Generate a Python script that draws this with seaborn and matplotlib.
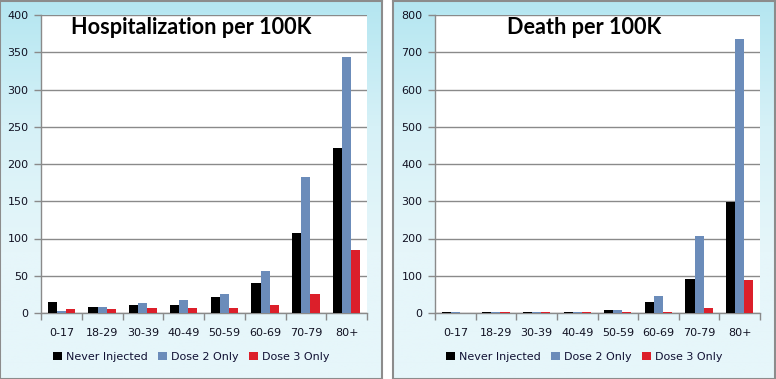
import numpy as np
import pandas as pd
import matplotlib
matplotlib.use("Agg")
import matplotlib.pyplot as plt
import seaborn as sns
from matplotlib.colors import LinearSegmentedColormap
from matplotlib.patches import Patch

categories = ["0-17", "18-29", "30-39", "40-49", "50-59", "60-69", "70-79", "80+"]
series = ["Never Injected", "Dose 2 Only", "Dose 3 Only"]
hosp_never = [15, 8.6, 11.3, 11.3, 22, 39.6, 107, 222]
hosp_dose2 = [3.2, 8.6, 14, 18, 26, 56, 182, 344]
hosp_dose3 = [5, 5, 6.3, 6.3, 7.2, 11.3, 26, 84]
death_never = [3.6, 3, 3, 3, 9, 30.6, 90, 297]
death_dose2 = [3.6, 3, 3, 3, 9, 46.8, 206, 735]
death_dose3 = [0.4, 3, 3, 3, 3, 3, 14.4, 87.4]
titles = ["Hospitalization per 100K", "Death per 100K"]
ylims = [400, 800]
ysteps = [50, 100]

colors = ["#000000", "#6b8cba", "#dc1f2a"]

sns.set_theme(style="white")
plt.rcParams["font.family"] = ["DejaVu Sans"]

W, H = 776, 379
fig = plt.figure(figsize=(W / 100, H / 100), dpi=100)
fig.patch.set_facecolor("white")

cmap = LinearSegmentedColormap.from_list("bg", ["#b4e6f1", "#d6f1f7", "#e6f6fa", "#e6f6fa"])
grad = np.linspace(0, 1, 256).reshape(-1, 1)

panels = [(0, 383), (393, 776)]
plot_boxes = [(41, 367), (435, 760)]
datasets = [(hosp_never, hosp_dose2, hosp_dose3), (death_never, death_dose2, death_dose3)]

for i in range(2):
    px0, px1 = panels[i]
    bg = fig.add_axes([px0 / W, 0.5 / H, (px1 - px0 - 1) / W, (H - 1.5) / H])
    bg.imshow(grad, aspect="auto", cmap=cmap, extent=[0, 1, 0, 1])
    bg.set_xticks([])
    bg.set_yticks([])
    for s in bg.spines.values():
        s.set_color("#8c8c8c")
        s.set_linewidth(1.5)
    bg.set_zorder(0)

    x0, x1 = plot_boxes[i]
    ax = fig.add_axes([x0 / W, (H - 313) / H, (x1 - x0) / W, 298 / H])
    ax.set_zorder(1)
    ax.set_facecolor("white")
    n, d2, d3 = datasets[i]
    df = pd.DataFrame({
        "Age": categories * 3,
        "Series": [series[0]] * 8 + [series[1]] * 8 + [series[2]] * 8,
        "Value": list(n) + list(d2) + list(d3),
    })
    sns.barplot(data=df, x="Age", y="Value", hue="Series", hue_order=series,
                palette=colors, width=0.67, saturation=1, ax=ax, legend=False,
                linewidth=0, errorbar=None, zorder=3)
    ax.set_xlim(-0.5, 7.5)
    ax.set_ylim(0, ylims[i])
    ax.set_yticks(np.arange(0, ylims[i] + 1, ysteps[i]))
    ax.yaxis.grid(True, color="#8a8a8a", linewidth=1)
    ax.set_axisbelow(True)
    ax.set_xlabel("")
    ax.set_ylabel("")
    ax.set_xticks(range(8))
    ax.set_xticklabels(categories)
    ax.set_xticks(np.arange(-0.5, 8, 1), minor=True)
    ax.tick_params(axis="x", which="major", length=0, pad=11, labelsize=8, labelcolor="#111122")
    ax.tick_params(axis="x", which="minor", length=5, width=1, color="#8a8a8a", direction="out", bottom=True)
    ax.tick_params(axis="y", which="major", length=5, width=1, color="#8a8a8a", direction="out",
                   left=True, labelsize=8, labelcolor="#111122", pad=4)
    for side in ["top", "right"]:
        ax.spines[side].set_visible(False)
    for side in ["left", "bottom"]:
        ax.spines[side].set_color("#8a8a8a")
        ax.spines[side].set_linewidth(1)

    cx = ((px0 + px1) / 2) / W
    fig.text(cx, 1 - 27 / H, titles[i], ha="center", va="center", fontsize=15.6,
             fontweight="bold", family=["Lato", "DejaVu Sans"], color="black", zorder=5)

    handles = [Patch(facecolor=c, edgecolor="none") for c in colors]
    fig.legend(handles, series, loc="center", bbox_to_anchor=(cx, 1 - 357 / H), ncol=3,
               frameon=False, fontsize=8, handlelength=0.8, handleheight=0.8,
               handletextpad=0.4, columnspacing=0.9, labelcolor="#111133")

fig.savefig("out.png", dpi=100)
